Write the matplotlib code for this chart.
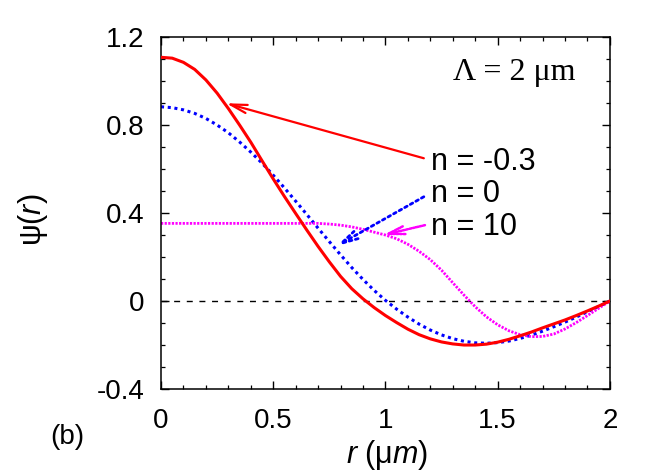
import matplotlib
matplotlib.use("Agg")
import matplotlib.pyplot as plt
import numpy as np

plt.rcParams['font.family'] = ['Liberation Sans', 'DejaVu Sans']
plt.rcParams['mathtext.fontset'] = 'custom'
plt.rcParams['mathtext.it'] = 'Liberation Sans:italic'
plt.rcParams['mathtext.rm'] = 'Liberation Sans'

# radius samples (um) and mode profiles
r = np.linspace(0, 2, 41)
psi_m03 = [1.108, 1.104, 1.085, 1.053, 1.005, 0.945, 0.875, 0.800, 0.722, 0.638,
           0.555, 0.475, 0.398, 0.322, 0.248, 0.178, 0.112, 0.056, 0.010, -0.030,
           -0.066, -0.098, -0.128, -0.153, -0.172, -0.186, -0.195, -0.200, -0.200, -0.196,
           -0.187, -0.174, -0.158, -0.141, -0.122, -0.104, -0.086, -0.066, -0.045, -0.023,
           0.000]
psi_0 = [0.883, 0.879, 0.869, 0.853, 0.830, 0.800, 0.765, 0.723, 0.677, 0.627,
         0.572, 0.514, 0.454, 0.393, 0.331, 0.270, 0.210, 0.152, 0.098, 0.048,
         0.003, -0.037, -0.073, -0.105, -0.132, -0.154, -0.171, -0.183, -0.190, -0.192,
         -0.189, -0.182, -0.170, -0.155, -0.137, -0.117, -0.096, -0.073, -0.049, -0.025,
         0.000]
psi_10 = [0.353, 0.353, 0.353, 0.353, 0.353, 0.353, 0.353, 0.353, 0.353, 0.353,
          0.353, 0.353, 0.353, 0.353, 0.353, 0.350, 0.345, 0.337, 0.326, 0.313,
          0.300, 0.283, 0.258, 0.226, 0.188, 0.140, 0.083, 0.027, -0.026, -0.072,
          -0.108, -0.135, -0.153, -0.162, -0.161, -0.150, -0.127, -0.098, -0.066, -0.033,
          0.000]

labels = ["n = -0.3", "n = 0", "n = 10"]
label_y = [0.595, 0.45, 0.30]
arrow_tail = [(1.171, 0.649), (1.171, 0.474), (1.176, 0.345)]
arrow_head = [(0.29, 0.899), (0.782, 0.25), (0.99, 0.30)]

fig = plt.figure(figsize=(6.64, 4.75), dpi=100)
ax = fig.add_axes([0.2425, 0.181, 0.676, 0.741])

ax.axhline(0, color="black", lw=1.0, dashes=(4.3, 4.8), zorder=1)

ax.plot(r, psi_m03, color="#ff0000", lw=2.2, zorder=3)
ax.plot(r, psi_0, color="#0000ff", lw=2.2, linestyle=(0, (1, 1.2)), zorder=2)
ax.plot(r, psi_10, color="#ff00ff", lw=2.0, linestyle=(0, (0.8, 0.5)), zorder=2)

styles = [
    dict(color="#ff0000", lw=1.6, linestyle="-"),
    dict(color="#0000ff", lw=2.0, linestyle=(0, (1, 1.3))),
    dict(color="#ff00ff", lw=1.8, linestyle=(0, (0.8, 0.6))),
]
for lab, ly, tail, head, st in zip(labels, label_y, arrow_tail, arrow_head, styles):
    ax.annotate("", xy=head, xytext=tail,
                arrowprops=dict(arrowstyle="->,head_length=1.2,head_width=0.3",
                                mutation_scale=10, shrinkA=0, shrinkB=0, **st))
    ax.text(1.205, ly, lab, fontsize=22, va="baseline", ha="left")

ax.text(1.575, 1.04, "Λ = 2 μm", ha="center", va="center", fontsize=23,
        family="Liberation Serif")

ax.set_xlim(0, 2)
ax.set_ylim(-0.4, 1.2)
ax.set_xticks([0, 0.5, 1, 1.5, 2])
ax.set_xticklabels(["0", "0.5", "1", "1.5", "2"])
ax.set_yticks([-0.4, 0, 0.4, 0.8, 1.2])
ax.set_yticklabels(["-0.4", "0", "0.4", "0.8", "1.2"])
ax.set_xticks(np.arange(0, 2.01, 0.1), minor=True)
ax.set_yticks(np.arange(-0.4, 1.21, 0.1), minor=True)
ax.tick_params(which="both", direction="in", top=True, right=True, labelsize=20)
ax.tick_params(which="major", length=5.8, width=1.0)
ax.tick_params(which="minor", length=3.0, width=0.9)
ax.tick_params(axis="y", pad=12)
ax.tick_params(axis="x", pad=14)
for s in ax.spines.values():
    s.set_linewidth(1.1)

ax.text(-0.285, 0.48, "ψ($r$)", transform=ax.transAxes, rotation=90,
        ha="center", va="center", fontsize=22)
fig.text(0.583, 0.042, "$r$ (μ$m$)", ha="center", va="center", fontsize=22)
fig.text(0.102, 0.08, "(b)", ha="center", va="center", fontsize=20)

fig.savefig("out.png", dpi=100)
